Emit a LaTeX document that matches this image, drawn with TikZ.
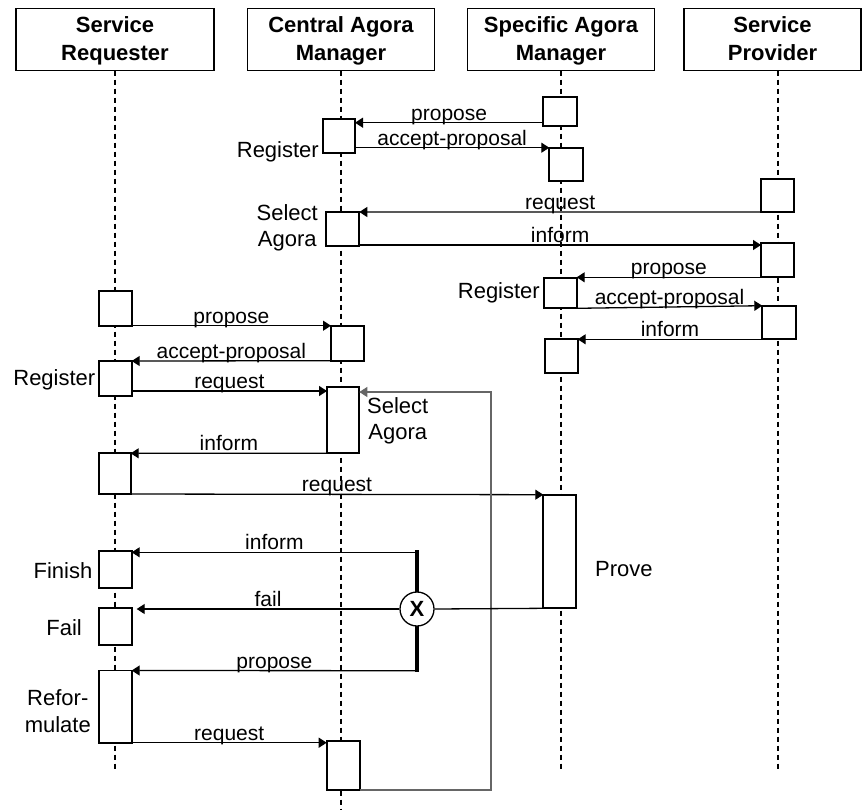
\documentclass[tikz,border=0pt]{standalone}
\usepackage{fontspec}
\setmainfont{Liberation Sans}
\usetikzlibrary{arrows.meta}
% activation box: name, left x, top y, width, height
\newcommand\actbox[5]{\node[act,minimum width=#4pt,minimum height=#5pt] (#1) at (#2,#3) {};}
% strut that sets the two header lines at the same height in every box
\newcommand\hstrut{\rule[-5pt]{0pt}{24.8pt}}
\begin{document}
\begin{tikzpicture}[x=1pt,y=-1pt,
  headbox/.style={draw,line width=1.8pt,fill=white,align=center,inner sep=0pt,outer sep=0pt,
    minimum height=62pt,font=\fontsize{22}{28}\selectfont\bfseries},
  life/.style={line width=1.2pt,dash pattern=on 5pt off 4pt},
  act/.style={draw,line width=1.8pt,fill=white,inner sep=0pt,outer sep=0pt,anchor=north west},
  msg/.style={line width=1.3pt,-{Triangle[length=8pt,width=10pt]}},
  plain/.style={line width=1.3pt},
  fb/.style={line width=1.1pt,draw=black!60,-{Triangle[length=8pt,width=10pt]}},
  lbl/.style={font=\fontsize{21}{24}\selectfont,anchor=base,yshift=2.5pt,inner sep=0pt},
  side/.style={font=\fontsize{22}{26.5}\selectfont,inner sep=0pt,align=center}]
\useasboundingbox (0,0) rectangle (862,809);

% headers
\node[headbox,minimum width=198pt] (h1) at (115,39.5) {\hstrut Service\\Requester\hstrut};
\node[headbox,minimum width=187pt] (h2) at (341,39.5) {\hstrut Central Agora\\Manager\hstrut};
\node[headbox,minimum width=187pt] (h3) at (561,39.5) {\hstrut Specific Agora\\Manager\hstrut};
\node[headbox,minimum width=177pt] (h4) at (772.5,39.5) {\hstrut Service\\Provider\hstrut};

% lifelines
\coordinate (e1) at (115,772);
\coordinate (e2) at (341,809);
\coordinate (e3) at (561,772);
\coordinate (e4) at (778,772);
\draw[life] (h1.south) -- (e1);
\draw[life] (h2.south) -- (e2);
\draw[life] (h3.south) -- (e3);
\draw[life] (h4.south -| e4) -- (e4);

% activation boxes
\actbox{sam1}{543.3}{96.7}{34}{29.3}
\actbox{camreg}{322.7}{119.3}{32.3}{33.4}
\actbox{sam2}{549.3}{147.7}{34}{33.3}
\actbox{sp1}{761}{179.3}{33}{32.7}
\actbox{camsel}{326}{212}{33.3}{34}
\actbox{sp2}{761}{243.3}{33}{34}
\actbox{samreg}{544.3}{278.3}{32.4}{30}
\actbox{sp3}{762.3}{305.7}{33.4}{33.6}
\actbox{sam3}{545}{339.3}{32.7}{33.4}
\actbox{sr1}{99.3}{290.7}{32.4}{35}
\actbox{cam3}{331}{325.7}{33}{35}
\actbox{srreg}{99.3}{361}{32.4}{35}
\actbox{camsel2}{327}{387}{32.3}{66.3}
\actbox{sr2}{99.3}{453.3}{31.4}{40.7}
\actbox{prove}{543.3}{494.7}{32.4}{113.6}
\actbox{finish}{99}{551}{32.7}{36.7}
\actbox{fail}{99}{608.3}{32.7}{36.7}
\actbox{reform}{99}{670.5}{32.7}{72.2}
\actbox{cam4}{326.7}{740.7}{33.3}{49.3}

% registration of the specific agora
\draw[msg] (sam1.west |- 0,122.7) -- node[lbl]{propose} (camreg.east |- 0,122.7);
\draw[msg] (camreg.east |- sam2.north west) -- node[lbl]{accept-proposal} (sam2.north west);

% provider selects an agora and registers
\draw[msg] (sp1.south west) -- node[lbl]{request} (camsel.north east);
\draw[msg] (camsel.east |- 0,245) -- node[lbl]{inform} (sp2.west |- 0,245);
\draw[msg] (sp2.south west) -- node[lbl]{propose} (samreg.east |- sp2.south west);
\draw[msg] (samreg.south east) -- node[lbl]{accept-proposal} (sp3.north west);
\draw[msg] (sp3.south west) -- node[lbl]{inform} (sam3.north east);

% requester registers and selects an agora
\draw[msg] (sr1.south east) -- node[lbl]{propose} (cam3.north west);
\draw[msg] (cam3.south west) -- node[lbl]{accept-proposal} (srreg.north east);
\draw[msg] (srreg.east |- 0,391) -- node[lbl]{request} (camsel2.west |- 0,391);
\draw[msg] (camsel2.south west) -- node[lbl]{inform} (sr2.north east);
\draw[msg] (sr2.south east) -- node[lbl]{request} (prove.north west);

% loop back from the reformulated request
\coordinate (fbx) at (491,600);
\draw[fb] (cam4.south east) -| (fbx) |- ([yshift=-5pt]camsel2.north east);

% outcome of the proof
\coordinate (bt) at (417,550);
\coordinate (bb) at (417,671.7);
\draw[line width=4.5pt] (bt) -- (bb);
\node[circle,draw,fill=white,line width=1.3pt,minimum size=34pt,inner sep=0pt,
  font=\fontsize{22}{22}\selectfont\bfseries] (xor) at (417,609) {X};
\draw[plain] (prove.south west) -- (xor.east);
\draw[msg] (bt |- 0,552.3) -- node[lbl]{inform} (finish.east |- 0,552.3);
\coordinate (failtip) at (136.7,609);
\draw[msg] (xor.west) -- node[lbl]{fail} (failtip);
\draw[msg] (bb |- 0,670.7) -- node[lbl]{propose} (reform.north east);
\draw[msg] (reform.south east) -- node[lbl]{request} (cam4.west |- reform.south east);

% activity labels
\node[side,anchor=east] (t1) at (319,151.5) {Register};
\node[side,anchor=east] (t2) at (318,228) {Select\\Agora};
\node[side,anchor=east] (t3) at (540,293) {Register};
\node[side,anchor=east] (t4) at (95.5,380) {Register};
\node[side,anchor=west] (t5) at (367,421) {Select\\Agora};
\node[side,anchor=west] (t6) at (595,569.5) {Prove};
\node[side,anchor=east] (t7) at (92.5,571) {Finish};
\node[side,anchor=east] (t8) at (82,628) {Fail};
\node[side,anchor=east] (t9) at (91,711) {Refor-\\mulate};
\end{tikzpicture}
\end{document}
